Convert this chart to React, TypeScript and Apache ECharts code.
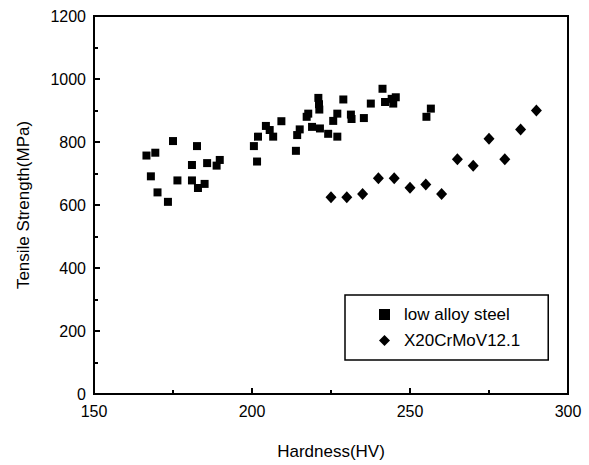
import React, { useEffect, useRef } from "react";
import * as echarts from "echarts";

const lowAlloyHardness = [
  166.6, 169.4, 168.0, 170.1, 173.4, 175.0, 176.4, 181.0, 181.0, 182.6, 182.9, 185.0, 185.8, 188.8, 189.8,
  200.6, 201.6, 201.9, 204.4, 205.6, 206.7, 209.3, 213.9, 214.3, 215.1, 217.3, 217.8, 219.0, 221.0, 221.2,
  221.3, 221.5, 224.1, 225.7, 227.0, 227.0, 228.9, 231.3, 231.5, 235.4, 237.6, 241.3, 242.1, 244.2, 244.7,
  245.5, 255.2, 256.6,
];
const lowAlloyStrength = [
  757, 766, 691, 640, 610, 803, 678, 727, 678, 787, 654, 667, 733, 725, 743,
  787, 738, 817, 851, 838, 817, 866, 772, 822, 840, 880, 890, 848, 940, 920,
  903, 843, 826, 867, 890, 817, 935, 887, 873, 876, 922, 969, 927, 937, 922,
  942, 880, 906,
];
const x20Hardness = [225, 230, 235, 240, 245, 250, 255, 260, 265, 270, 275, 280, 285, 290];
const x20Strength = [625, 625, 635, 685, 685, 655, 665, 635, 745, 725, 810, 745, 840, 900];

const seriesNames = ["low alloy steel", "X20CrMoV12.1"];
const xTitle = "Hardness(HV)";
const yTitle = "Tensile Strength(MPa)";

const FONT = "'Liberation Sans', Arial, sans-serif";

export default function App() {
  const ref = useRef<HTMLDivElement>(null);
  useEffect(() => {
    if (!ref.current) return;
    const chart = echarts.init(ref.current, null, { renderer: "svg" });
    const zip = (a: number[], b: number[]) => a.map((v, i) => [v, b[i]]);
    const axisCommon = {
      type: "value",
      nameLocation: "middle",
      nameTextStyle: { fontFamily: FONT, fontSize: 17, color: "#000" },
      axisLine: { show: true, lineStyle: { color: "#000", width: 2 } },
      axisTick: { show: true, inside: true, length: 6, lineStyle: { color: "#000", width: 2 } },
      minorTick: { show: true, splitNumber: 2, length: 4, lineStyle: { color: "#000", width: 2 } },
      splitLine: { show: false },
    };
    chart.setOption({
      animation: false,
      backgroundColor: "#fff",
      textStyle: { fontFamily: FONT },
      grid: {
        left: 94,
        right: 21,
        top: 16,
        bottom: 69,
        show: true,
        borderColor: "#000",
        borderWidth: 2,
      },
      legend: {
        left: 345,
        top: 295,
        orient: "vertical",
        backgroundColor: "#fff",
        borderColor: "#000",
        borderWidth: 1.5,
        padding: [11, 28, 11, 34],
        itemGap: 9,
        itemWidth: 11,
        itemHeight: 11,
        textStyle: { fontFamily: FONT, fontSize: 17, color: "#000", padding: [0, 0, 0, 9] },
        data: seriesNames,
      },
      xAxis: {
        ...axisCommon,
        min: 150,
        max: 300,
        interval: 50,
        name: xTitle,
        nameGap: 49,
        axisLabel: { fontFamily: FONT, fontSize: 16, color: "#000", margin: 9, formatter: (v: number) => String(v) },
      },
      yAxis: {
        ...axisCommon,
        min: 0,
        max: 1200,
        interval: 200,
        name: yTitle,
        nameGap: 62,
        axisLabel: { fontFamily: FONT, fontSize: 16, color: "#000", margin: 8, formatter: (v: number) => String(v) },
      },
      series: [
        {
          name: seriesNames[0],
          type: "scatter",
          symbol: "rect",
          symbolSize: 8,
          itemStyle: { color: "#000", opacity: 1 },
          data: zip(lowAlloyHardness, lowAlloyStrength),
        },
        {
          name: seriesNames[1],
          type: "scatter",
          symbol: "diamond",
          symbolSize: [11, 12],
          itemStyle: { color: "#000", opacity: 1 },
          data: zip(x20Hardness, x20Strength),
        },
      ],
    });
    return () => chart.dispose();
  }, []);
  return <div ref={ref} style={{ width: 589, height: 465, position: "absolute", left: 0, top: 0 }} />;
}
